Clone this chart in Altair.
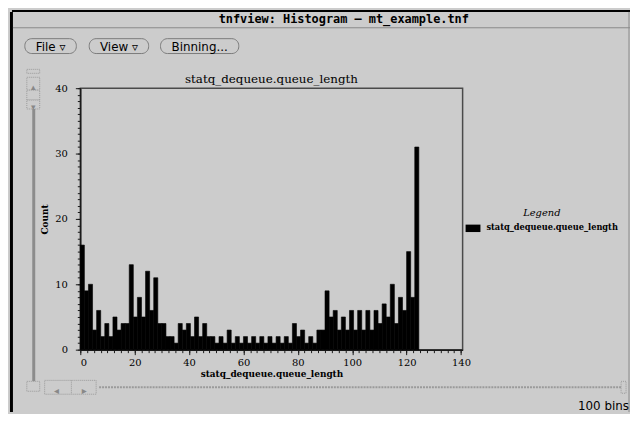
import altair as alt
import pandas as pd

# ---------------- data ----------------
counts = [16, 9, 10, 3, 6, 2, 4, 2, 5, 3, 4, 4, 13, 5, 8, 5, 12, 6, 11, 4, 4,
          2, 2, 1, 4, 3, 4, 2, 5, 2, 4, 2, 2, 1, 2, 1, 3, 1, 2, 1, 2, 1,
          2, 1, 2, 1, 2, 1, 2, 1, 2, 1, 4, 2, 3, 1, 2, 1, 3, 3, 9, 5, 6,
          3, 5, 3, 6, 3, 6, 3, 6, 3, 6, 4, 7, 5, 10, 4, 8, 6, 15, 8, 31]
BIN_WIDTH = 1.5
series_name = "statq_dequeue.queue_length"
x_ticks = [0, 20, 40, 60, 80, 100, 120, 140]
y_ticks = [0, 10, 20, 30, 40]
x_minor = [i * 2.5 for i in range(57)]
y_minor = list(range(41))

window_title = "tnfview: Histogram \u2013 mt_example.tnf"
buttons = ["File \u25bf", "View \u25bf", "Binning..."]
bins_label = "100 bins"

df = pd.DataFrame({
    "lo": [i * BIN_WIDTH for i in range(len(counts))],
    "hi": [(i + 1) * BIN_WIDTH for i in range(len(counts))],
    "count": counts,
    "series": series_name,
})

GRAY = "#cccccc"
SERIF = "DejaVu Serif"
SANS = "DejaVu Sans"
one = alt.Data(values=[{}])


def txt(s, x, y, **kw):
    return alt.Chart(one).mark_text(text=s, **kw).encode(x=alt.value(x), y=alt.value(y))


def box(x1, y1, x2, y2, **kw):
    return alt.Chart(one).mark_rect(**kw).encode(
        x=alt.value(x1), x2=alt.value(x2), y=alt.value(y1), y2=alt.value(y2))


def hline(x1, x2, y, **kw):
    return alt.Chart(one).mark_rule(**kw).encode(
        x=alt.value(x1), x2=alt.value(x2), y=alt.value(y))


def vline(x, y1, y2, **kw):
    return alt.Chart(one).mark_rule(**kw).encode(
        x=alt.value(x), y=alt.value(y1), y2=alt.value(y2))


# ---------------- window chrome (plot-relative pixels) ----------------
chrome = [
    box(-69, -79, 555, -77, fill="#000000"),
    box(-71, -77, -68, 327, fill="#000000"),
    hline(-68, 555, -61, color="#8a8a8a", strokeWidth=1),
    vline(554, -77, 327, color="#8a8a8a", strokeWidth=1),
    txt(window_title, 266, -66, font="DejaVu Sans Mono", fontSize=12,
        fontWeight="bold", align="center", baseline="alphabetic", color="#000000"),
    # buttons
    box(-56, -50, -4, -35, fill=GRAY, stroke="#7a7a7a", strokeWidth=1, cornerRadius=7),
    box(9, -50, 69, -35, fill=GRAY, stroke="#7a7a7a", strokeWidth=1, cornerRadius=7),
    box(81, -50, 160, -35, fill=GRAY, stroke="#7a7a7a", strokeWidth=1, cornerRadius=7),
    txt(buttons[0], -30, -38, font=SANS, fontSize=12, align="center", baseline="alphabetic", color="#000000"),
    txt(buttons[1], 39, -38, font=SANS, fontSize=12, align="center", baseline="alphabetic", color="#000000"),
    txt(buttons[2], 120.5, -38, font=SANS, fontSize=12, align="center", baseline="alphabetic", color="#000000"),
    # vertical scrollbar
    box(-54, -19, -41, -15, fill=GRAY, stroke="#9a9a9a", strokeWidth=1, strokeDash=[1, 1]),
    box(-54, -11, -41, 2, fill=GRAY, stroke="#9a9a9a", strokeWidth=1, strokeDash=[1, 1]),
    box(-54, 2, -41, 12, fill=GRAY, stroke="#9a9a9a", strokeWidth=1, strokeDash=[1, 1]),
    box(-54, 12, -41, 21, fill=GRAY, stroke="#9a9a9a", strokeWidth=1, strokeDash=[1, 1]),
    txt("\u25b4", -47.5, -1, font=SANS, fontSize=9, align="center", color="#888888"),
    txt("\u25be", -47.5, 19, font=SANS, fontSize=9, align="center", color="#888888"),
    vline(-47, 21, 296, color="#8c8c8c", strokeWidth=3),
    box(-54, 296, -41, 306, fill=GRAY, stroke="#9a9a9a", strokeWidth=1, strokeDash=[1, 1]),
    # horizontal scrollbar
    hline(19, 547, 302, color="#9a9a9a", strokeWidth=2, strokeDash=[2, 1]),
    box(-36, 295, 16, 309, fill=GRAY, stroke="#9a9a9a", strokeWidth=1, strokeDash=[1, 1]),
    vline(-9, 295, 309, color="#9a9a9a", strokeWidth=1, strokeDash=[1, 1]),
    txt("\u25c2", -24, 306, font=SANS, fontSize=10, align="center", color="#888888"),
    txt("\u25b8", 4, 306, font=SANS, fontSize=10, align="center", color="#888888"),
    box(546, 296, 551, 308, fill=GRAY, stroke="#9a9a9a", strokeWidth=1, strokeDash=[1, 1]),
    txt(bins_label, 554, 325, font=SANS, fontSize=12, align="right", baseline="alphabetic", color="#000000"),
    # chart title
    txt(series_name, 193, -5, font=SERIF, fontSize=12, align="center", baseline="alphabetic", color="#000000"),
]

# ---------------- histogram ----------------
x_scale = alt.Scale(domain=[0, 140.6], nice=False, zero=False)
y_scale = alt.Scale(domain=[0, 40], nice=False)

bars = alt.Chart(df).mark_rect(color="#000000", stroke="#000000", strokeWidth=0.6).encode(
    x=alt.X("lo:Q", scale=x_scale, axis=alt.Axis(
        values=x_ticks, title=series_name, tickSize=5, labelPadding=3,
        titlePadding=2, grid=False, orient="bottom")),
    x2="hi:Q",
    y=alt.Y("count:Q", scale=y_scale, axis=alt.Axis(
        values=y_ticks, title="Count", tickSize=5, labelPadding=8,
        titlePadding=5, grid=False, orient="left")),
    y2=alt.datum(0),
    color=alt.Color("series:N", scale=alt.Scale(range=["#000000"]), legend=alt.Legend(
        title="Legend", orient="none", legendX=389, legendY=121,
        titleFont=SERIF, titleFontStyle="italic", titleFontWeight="normal",
        titleFontSize=10, titleColor="#000000", titleAnchor="middle", titlePadding=3,
        symbolType="M-1,-0.5H1V0.5H-1Z", symbolSize=225, symbolStrokeWidth=0,
        symbolFillColor="#000000",
        labelFont=SERIF, labelFontSize=8.3, labelFontWeight="bold",
        labelColor="#000000", labelOffset=6, labelLimit=300)),
)

minor = alt.Chart(df).mark_rect(opacity=0).encode(
    x=alt.X("lo:Q", scale=x_scale, axis=alt.Axis(
        values=x_minor, labels=False, tickSize=3, domain=False, title=None,
        grid=False, orient="bottom")),
    y=alt.Y("count:Q", scale=y_scale, axis=alt.Axis(
        values=y_minor, labels=False, tickSize=3, domain=False, title=None,
        grid=False, orient="left")),
)

chart = alt.layer(*chrome, bars, minor).resolve_axis(
    x="independent", y="independent"
).properties(
    width=386,
    height=264,
    padding={"left": 73, "top": 79, "right": 169, "bottom": 63},
    autosize=alt.AutoSizeParams(type="none"),
    background=GRAY,
).configure_view(
    stroke="#4a4a4a", strokeWidth=1.5, fill=GRAY
).configure_axis(
    labelFont=SERIF, labelFontSize=10, labelColor="#000000",
    titleFont=SERIF, titleFontSize=9, titleFontWeight="bold", titleColor="#000000",
    domainColor="#1a1a1a", domainWidth=1.5, tickColor="#1a1a1a", tickWidth=1,
)

chart.save("out.html", embed_options={"renderer": "svg", "actions": False})
